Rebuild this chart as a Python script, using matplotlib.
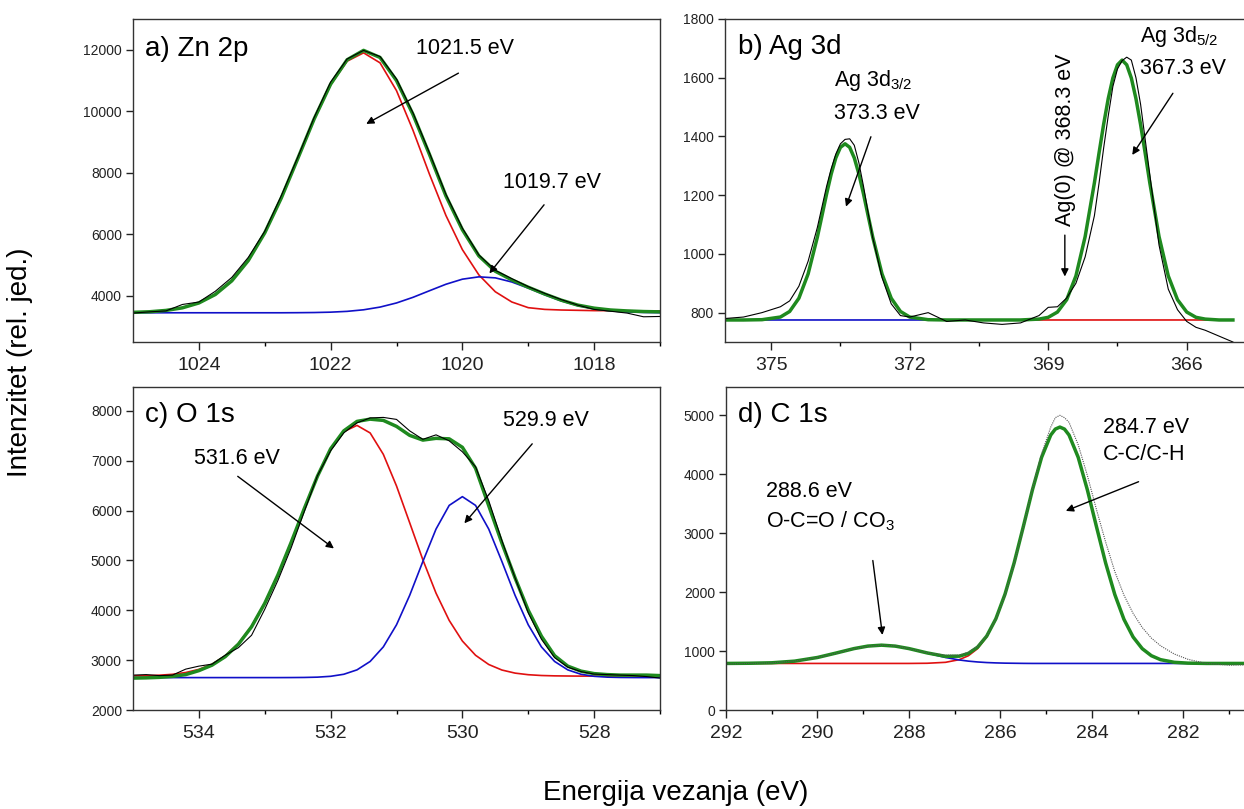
import matplotlib
matplotlib.use('Agg')
import matplotlib.pyplot as plt

plt.rcParams['font.family'] = ['Liberation Sans', 'DejaVu Sans']
plt.rcParams['mathtext.fontset'] = 'custom'
plt.rcParams['mathtext.rm'] = 'Liberation Sans'
plt.rcParams['mathtext.it'] = 'Liberation Sans'

# ---------------------------------------------------------------
# a) Zn 2p
# ---------------------------------------------------------------
x_a = [1025.0, 1024.75, 1024.5, 1024.25, 1024.0, 1023.75, 1023.5, 1023.25, 1023.0,
       1022.75, 1022.5, 1022.25, 1022.0, 1021.75, 1021.5, 1021.25, 1021.0, 1020.75,
       1020.5, 1020.25, 1020.0, 1019.75, 1019.5, 1019.25, 1019.0, 1018.75, 1018.5,
       1018.25, 1018.0, 1017.75, 1017.5, 1017.25, 1017.0]
raw_a = [3440, 3480, 3510, 3720, 3800, 4150, 4600, 5250, 6100, 7250, 8500, 9800,
         10950, 11700, 11980, 11780, 11050, 9950, 8650, 7300, 6200, 5330, 4830,
         4560, 4300, 4080, 3880, 3700, 3560, 3500, 3440, 3320, 3330]
red_a = [3464, 3483, 3526, 3611, 3769, 4045, 4489, 5148, 6048, 7176, 8453, 9743,
         10862, 11628, 11900, 11575, 10671, 9384, 7956, 6614, 5503, 4682, 4133,
         3801, 3616, 3560, 3540, 3530, 3520, 3520, 3515, 3510, 3510]
blue_a = [3450, 3450, 3450, 3450, 3450, 3450, 3450, 3450, 3450, 3450, 3453, 3458,
          3470, 3496, 3547, 3635, 3769, 3952, 4166, 4377, 4542, 4618, 4585, 4451,
          4253, 4035, 3837, 3683, 3577, 3513, 3478, 3462, 3454]
fit_a = [3464, 3483, 3526, 3611, 3769, 4045, 4489, 5148, 6048, 7176, 8456, 9751,
         10882, 11674, 11980, 11750, 11000, 9900, 8600, 7250, 6150, 5300, 4800,
         4520, 4280, 4060, 3860, 3700, 3600, 3540, 3510, 3490, 3480]

# ---------------------------------------------------------------
# b) Ag 3d
# ---------------------------------------------------------------
x_b = [376.0, 375.6, 375.2, 374.8, 374.6, 374.4, 374.2, 374.0, 373.9, 373.8, 373.7,
       373.6, 373.5, 373.4, 373.3, 373.2, 373.1, 373.0, 372.9, 372.8, 372.6, 372.4,
       372.2, 372.0, 371.6, 371.2, 370.8, 370.4, 370.0, 369.6, 369.2, 369.0, 368.8,
       368.6, 368.4, 368.2, 368.0, 367.9, 367.8, 367.7, 367.6, 367.5, 367.4, 367.3,
       367.2, 367.1, 367.0, 366.9, 366.8, 366.6, 366.4, 366.2, 366.0, 365.8, 365.6,
       365.3, 365.0]
raw_b = [780, 785, 800, 820, 840, 890, 975, 1090, 1160, 1230, 1290, 1340, 1375, 1390,
         1392, 1370, 1310, 1230, 1140, 1055, 920, 830, 790, 785, 800, 770, 775, 765,
         760, 765, 790, 818, 820, 850, 900, 990, 1130, 1240, 1360, 1470, 1570, 1630,
         1658, 1670, 1660, 1600, 1510, 1390, 1270, 1030, 880, 810, 770, 750, 740, 720,
         700]
red_b = [775, 775, 776, 785, 804, 849, 932, 1057, 1130, 1204, 1272, 1327, 1363, 1375,
         1363, 1327, 1272, 1204, 1130, 1057, 932, 849, 804, 785, 776, 775, 775, 775,
         775, 775, 775, 775, 775, 775, 775, 775, 775, 775, 775, 775, 775, 775, 775,
         775, 775, 775, 775, 775, 775, 775, 775, 775, 775, 775, 775, 775, 775]
blue_b = [775, 775, 775, 775, 775, 775, 775, 775, 775, 775, 775, 775, 775, 775, 775,
          775, 775, 775, 775, 775, 775, 775, 775, 775, 775, 775, 775, 775, 775, 775,
          778, 784, 802, 844, 925, 1059, 1242, 1343, 1441, 1529, 1599, 1644, 1660,
          1644, 1599, 1529, 1441, 1343, 1242, 1059, 925, 844, 802, 784, 778, 775, 775]
fit_b = [775, 775, 776, 785, 804, 849, 932, 1057, 1130, 1204, 1272, 1327, 1363, 1375,
         1363, 1327, 1272, 1204, 1130, 1057, 932, 849, 804, 785, 776, 775, 775, 775,
         775, 775, 778, 784, 802, 844, 925, 1059, 1242, 1343, 1441, 1529, 1599, 1644,
         1660, 1644, 1599, 1529, 1441, 1343, 1242, 1059, 925, 844, 802, 784, 778, 775,
         775]

# ---------------------------------------------------------------
# c) O 1s
# ---------------------------------------------------------------
x_c = [535.0, 534.8, 534.6, 534.4, 534.2, 534.0, 533.8, 533.6, 533.4, 533.2, 533.0,
       532.8, 532.6, 532.4, 532.2, 532.0, 531.8, 531.6, 531.4, 531.2, 531.0, 530.8,
       530.6, 530.4, 530.2, 530.0, 529.8, 529.6, 529.4, 529.2, 529.0, 528.8, 528.6,
       528.4, 528.2, 528.0, 527.8, 527.6, 527.4, 527.2, 527.0]
raw_c = [2700, 2710, 2690, 2700, 2820, 2880, 2920, 3100, 3250, 3500, 4020, 4600, 5250,
         5980, 6700, 7200, 7560, 7760, 7860, 7870, 7830, 7600, 7430, 7520, 7400, 7180,
         6880, 6200, 5400, 4650, 3950, 3420, 3050, 2860, 2770, 2720, 2710, 2700, 2690,
         2670, 2640]
red_c = [2684, 2688, 2698, 2716, 2752, 2815, 2920, 3087, 3336, 3686, 4147, 4714, 5363,
         6044, 6691, 7229, 7585, 7710, 7558, 7129, 6495, 5757, 5014, 4344, 3797, 3384,
         3098, 2913, 2802, 2740, 2708, 2692, 2685, 2682, 2680, 2680, 2680, 2680, 2680,
         2680, 2680]
blue_c = [2650, 2650, 2650, 2650, 2650, 2650, 2650, 2650, 2650, 2650, 2650, 2650, 2651,
          2653, 2659, 2676, 2717, 2805, 2974, 3266, 3709, 4300, 4979, 5630, 6105, 6280,
          6105, 5630, 4979, 4300, 3709, 3266, 2974, 2805, 2717, 2676, 2659, 2653, 2651,
          2650, 2650]
fit_c = [2640, 2645, 2655, 2675, 2710, 2790, 2900, 3070, 3320, 3670, 4140, 4710, 5360,
         6040, 6690, 7240, 7600, 7790, 7835, 7810, 7690, 7510, 7415, 7450, 7440, 7270,
         6850, 6100, 5350, 4650, 4000, 3480, 3090, 2880, 2780, 2730, 2710, 2700, 2700,
         2700, 2690]

# ---------------------------------------------------------------
# d) C 1s
# ---------------------------------------------------------------
x_d = [292.0, 291.5, 291.0, 290.5, 290.0, 289.6, 289.2, 288.9, 288.6, 288.3, 288.0,
       287.6, 287.2, 286.9, 286.7, 286.5, 286.3, 286.1, 285.9, 285.7, 285.5, 285.3,
       285.1, 284.9, 284.8, 284.7, 284.6, 284.5, 284.3, 284.1, 283.9, 283.7, 283.5,
       283.3, 283.1, 282.9, 282.7, 282.5, 282.2, 281.9, 281.5, 281.0, 280.5]
raw_d = [780, 790, 800, 830, 890, 960, 1040, 1080, 1100, 1090, 1040, 970, 930, 930,
         980, 1080, 1260, 1540, 1950, 2480, 3100, 3760, 4350, 4800, 4960, 5000, 4960,
         4880, 4500, 3980, 3400, 2850, 2350, 1950, 1640, 1400, 1220, 1090, 950, 860,
         790, 760, 770]
red_d = [790, 790, 790, 790, 790, 790, 790, 790, 790, 790, 790, 793, 809, 854, 921,
         1041, 1239, 1539, 1960, 2494, 3109, 3737, 4287, 4665, 4766, 4800, 4766, 4665,
         4287, 3737, 3109, 2494, 1960, 1539, 1239, 1041, 921, 854, 809, 795, 790, 790,
         790]
blue_d = [790, 793, 801, 829, 891, 965, 1042, 1084, 1100, 1084, 1042, 965, 891, 849,
          829, 815, 805, 799, 795, 793, 791, 790, 790, 790, 790, 790, 790, 790, 790,
          790, 790, 790, 790, 790, 790, 790, 790, 790, 790, 790, 790, 790, 790]
fit_d = [790, 793, 801, 829, 891, 965, 1042, 1084, 1100, 1084, 1042, 968, 910, 913,
         960, 1066, 1254, 1548, 1965, 2497, 3110, 3737, 4287, 4665, 4766, 4800, 4766,
         4665, 4287, 3737, 3109, 2494, 1960, 1539, 1239, 1041, 921, 854, 809, 795, 790,
         790, 790]

RED = '#e01010'
BLUE = '#1010c8'
GREEN = '#1f8a1f'

W, H = 1244, 809
fig = plt.figure(figsize=(W / 100, H / 100), dpi=100)


def make_axes(left, top, right, bottom):
    return fig.add_axes([left / W, 1 - bottom / H, (right - left) / W, (bottom - top) / H])


def style(ax, xlim, ylim, xmajor, ymajor):
    ax.set_xlim(*xlim)
    ax.set_ylim(*ylim)
    ax.set_xticks(xmajor)
    ax.set_xticks([(a + b) / 2 for a, b in zip(xmajor[:-1], xmajor[1:])] +
                  [xmajor[-1] + (xmajor[-1] - xmajor[-2]) / 2], minor=True)
    ax.set_yticks(ymajor)
    ax.tick_params(axis='x', which='major', direction='out', length=6, width=1,
                   labelsize=14, pad=5, colors='#222222')
    ax.tick_params(axis='x', which='minor', direction='out', length=3, width=1)
    ax.tick_params(axis='y', which='major', direction='out', length=5, width=1,
                   labelsize=10, pad=3, colors='#222222')
    for sp in ax.spines.values():
        sp.set_linewidth(1.0)
        sp.set_color('#333333')


def draw(ax, x, raw, red, blue, fit, raw_style=None):
    ax.plot(x, red, color=RED, lw=1.2)
    ax.plot(x, blue, color=BLUE, lw=1.2)
    ax.plot(x, fit, color=GREEN, lw=2.5)
    if raw_style is None:
        ax.plot(x, raw, color='black', lw=0.8)
    else:
        ax.plot(x, raw, color='#555555', lw=0.8, linestyle=(0, (1, 1)))


def arrow(ax, tail, head):
    ax.annotate('', xy=head, xytext=tail,
                arrowprops=dict(arrowstyle='-|>', color='black', lw=1.0,
                                mutation_scale=11, shrinkA=0, shrinkB=0))


ANN = 15.5
TTL = 20

# a) Zn 2p
ax = make_axes(133, 19, 660, 342)
draw(ax, x_a, raw_a, red_a, blue_a, fit_a)
style(ax, (1025, 1017), (2500, 13000), [1024, 1022, 1020, 1018], [4000, 6000, 8000, 10000, 12000])
ax.text(1024.82, 12030, 'a) Zn 2p', fontsize=TTL, va='center', ha='left')
ax.text(1020.7, 12030, '1021.5 eV', fontsize=ANN, va='center', ha='left')
arrow(ax, (1020.06, 11240), (1021.46, 9590))
ax.text(1019.38, 7690, '1019.7 eV', fontsize=ANN, va='center', ha='left')
arrow(ax, (1018.76, 6960), (1019.59, 4730))

# b) Ag 3d
ax = make_axes(725, 19, 1256, 342)
draw(ax, x_b, raw_b, red_b, blue_b, fit_b)
style(ax, (376, 365), (700, 1800), [375, 372, 369, 366], [800, 1000, 1200, 1400, 1600, 1800])
ax.text(375.71, 1706, 'b) Ag 3d', fontsize=TTL, va='center', ha='left')
ax.text(373.64, 1590, 'Ag 3d$_{3/2}$', fontsize=ANN, va='center', ha='left')
ax.text(373.64, 1479, '373.3 eV', fontsize=ANN, va='center', ha='left')
arrow(ax, (372.84, 1399), (373.38, 1161))
ax.text(367.02, 1740, 'Ag 3d$_{5/2}$', fontsize=ANN, va='center', ha='left')
ax.text(367.02, 1632, '367.3 eV', fontsize=ANN, va='center', ha='left')
arrow(ax, (366.3, 1547), (367.18, 1337))
ax.text(368.62, 1388, 'Ag(0) @ 368.3 eV', fontsize=ANN, rotation=90, va='center', ha='center')
arrow(ax, (368.64, 1064), (368.64, 923))

# c) O 1s
ax = make_axes(133, 387, 660, 710)
draw(ax, x_c, raw_c, red_c, blue_c, fit_c)
style(ax, (535, 527), (2000, 8480), [534, 532, 530, 528], [2000, 3000, 4000, 5000, 6000, 7000, 8000])
ax.text(534.82, 7912, 'c) O 1s', fontsize=TTL, va='center', ha='left')
ax.text(534.08, 7038, '531.6 eV', fontsize=ANN, va='center', ha='left')
arrow(ax, (533.41, 6688), (531.95, 5241))
ax.text(529.38, 7812, '529.9 eV', fontsize=ANN, va='center', ha='left')
arrow(ax, (528.94, 7340), (529.97, 5746))

# d) C 1s
ax = make_axes(726, 387, 1252, 710)
draw(ax, x_d, raw_d, red_d, blue_d, fit_d, raw_style='dotted')
style(ax, (292, 280.5), (0, 5480), [292, 290, 288, 286, 284, 282], [0, 1000, 2000, 3000, 4000, 5000])
ax.text(291.73, 5000, 'd) C 1s', fontsize=TTL, va='center', ha='left')
ax.text(283.75, 4800, '284.7 eV', fontsize=ANN, va='center', ha='left')
ax.text(283.75, 4330, 'C-C/C-H', fontsize=ANN, va='center', ha='left')
arrow(ax, (282.98, 3873), (284.57, 3378))
ax.text(291.12, 3703, '288.6 eV', fontsize=ANN, va='center', ha='left')
ax.text(291.12, 3208, 'O-C=O / CO$_3$', fontsize=ANN, va='center', ha='left')
arrow(ax, (288.79, 2536), (288.58, 1273))

fig.text(20 / W, 1 - 362 / H, 'Intenzitet (rel. jed.)', rotation=90, fontsize=20,
         va='center', ha='center')
fig.text(676 / W, 1 - 793 / H, 'Energija vezanja (eV)', fontsize=20,
         va='center', ha='center')

fig.savefig('out.png', dpi=100)
